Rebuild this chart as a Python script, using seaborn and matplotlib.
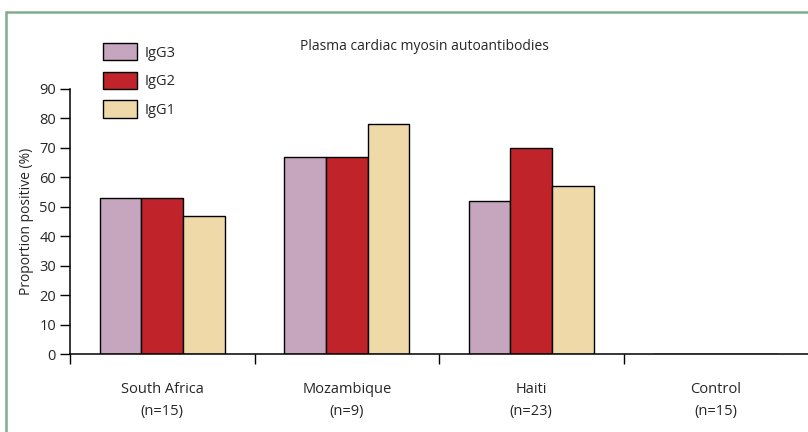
import matplotlib
matplotlib.use('Agg')
import matplotlib.pyplot as plt
import matplotlib.patches as mpatches
from matplotlib.lines import Line2D
import pandas as pd
import seaborn as sns

# Data
groups = ['South Africa', 'Mozambique', 'Haiti', 'Control']
group_n = ['(n=15)', '(n=9)', '(n=23)', '(n=15)']
subclasses = ['IgG3', 'IgG2', 'IgG1']
igg3 = [53, 67, 52, 0]
igg2 = [53, 67, 70, 0]
igg1 = [47, 78, 57, 0]
colors = ['#C6A5BF', '#C0232A', '#EFD9A9']

df = pd.DataFrame({
    'group': groups * 3,
    'subclass': [s for s in subclasses for _ in groups],
    'value': igg3 + igg2 + igg1,
})

sns.set_style('white')
plt.rcParams['font.family'] = ['Open Sans', 'DejaVu Sans']
fs = 10.5

fig = plt.figure(figsize=(8.08, 4.32), dpi=100)
ax = fig.add_axes([70 / 808, 1 - 354 / 432, 1 - 70 / 808, 265 / 432])

sns.barplot(data=df, x='group', y='value', hue='subclass', order=groups,
            hue_order=subclasses, palette=colors, saturation=1, width=0.68,
            edgecolor='black', linewidth=1, ax=ax, legend=False)

ax.set_xlim(-0.5, 3.5)
ax.set_ylim(0, 90)
ax.set_yticks(range(0, 91, 10))
ax.set_yticklabels([str(v) for v in range(0, 91, 10)], fontsize=fs)
ax.set_ylabel('Proportion positive (%)', fontsize=fs - 0.5, labelpad=4)
ax.set_xlabel('')

ax.set_xticks(range(len(groups)))
ax.set_xticklabels([f'{g}\n{n}' for g, n in zip(groups, group_n)], linespacing=1.65, fontsize=fs)
ax.set_xticks([-0.5, 0.5, 1.5, 2.5], minor=True)
ax.tick_params(axis='x', which='major', length=0, pad=20)
ax.tick_params(axis='x', which='minor', direction='out', length=7, width=1, color='black', bottom=True)
ax.tick_params(axis='y', direction='out', length=7, width=1, color='black', left=True, pad=3)

for side in ['top', 'right']:
    ax.spines[side].set_visible(False)
for side in ['left', 'bottom']:
    ax.spines[side].set_color('black')
    ax.spines[side].set_linewidth(1.1)

# Legend
handles = [mpatches.Patch(facecolor=c, edgecolor='black', linewidth=1, label=s)
           for s, c in zip(subclasses, colors)]
fig.legend(handles=handles, loc='upper left', bbox_to_anchor=(90 / 808, 1 - 30 / 432),
           frameon=False, handlelength=2.3, handleheight=1.45, labelspacing=0.76,
           handletextpad=0.55, fontsize=fs)

fig.text(424 / 808, 1 - 46 / 432, 'Plasma cardiac myosin autoantibodies',
         ha='center', va='center', fontsize=fs - 0.5)

# Green frame
frame_color = '#7FAE8A'
fig.add_artist(Line2D([6 / 808, 6 / 808], [0, 1 - 12 / 432], transform=fig.transFigure,
                      color=frame_color, linewidth=1.8))
fig.add_artist(Line2D([6 / 808, 1], [1 - 12 / 432, 1 - 12 / 432], transform=fig.transFigure,
                      color=frame_color, linewidth=1.8))

fig.savefig('out.png', dpi=100)
